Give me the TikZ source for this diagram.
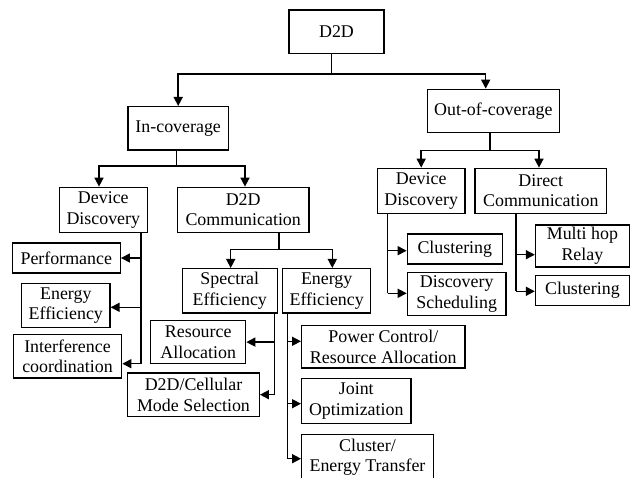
\documentclass[tikz,border=0pt]{standalone}
\usepackage{fontspec}
\setmainfont{Liberation Serif}
\usetikzlibrary{arrows.meta}
\begin{document}
\begin{tikzpicture}[x=1pt,y=-1pt,
  box/.style={draw,line width=1.3pt,inner sep=0pt,align=center,
    font=\fontsize{17.9}{20.7}\selectfont},
  bx/.style 2 args={box,minimum width=#1 pt,minimum height=#2 pt},
  ln/.style={line width=1.5pt},
  arr/.style={line width=1.5pt,-{Triangle[length=9pt,width=9pt]}}]
\useasboundingbox (0,0) rectangle (630,478);
\fill[white] (0,0) rectangle (630,478);

% nodes
\node[bx={95}{43.3}] (d2d) at (336.5,31.7) {D2D};
\node[bx={100.3}{43.3}] (inc) at (178.2,128.3) {In-coverage};
\node[bx={132}{43}] (outc) at (493.3,110.8) {Out-of-coverage};
\node[bx={88}{45}] (dd1) at (103.3,209.8) {Device\\Discovery};
\node[bx={131.7}{45}] (comm) at (243.2,209.8) {D2D\\Communication};
\node[bx={87.7}{45}] (dd2) at (421.2,190.8) {Device\\Discovery};
\node[bx={131.7}{45}] (dcomm) at (540.8,190.8) {Direct\\Communication};
\node[bx={108}{30}] (perf) at (66.3,258) {Performance};
\node[bx={88.3}{43.6}] (ee1) at (65.8,305.5) {Energy\\Efficiency};
\node[bx={108.4}{43.3}] (intf) at (67.5,356.3) {Interference\\coordination};
\node[bx={95}{44.3}] (spec) at (229.8,290.8) {Spectral\\Efficiency};
\node[bx={88}{44.3}] (ee2) at (326.7,290.8) {Energy\\Efficiency};
\node[bx={95}{43.2}] (res) at (198.2,342.1) {Resource\\Allocation};
\node[bx={131.6}{43.3}] (mode) at (193.5,394.7) {D2D/Cellular\\Mode Selection};
\node[bx={163.3}{42.7}] (power) at (383.3,346.7) {Power Control/\\Resource Allocation};
\node[bx={109.3}{45}] (joint) at (356.3,401.2) {Joint\\Optimization};
\node[bx={131.6}{45}] (clen) at (367.5,457.2) {Cluster/\\Energy Transfer};
\node[bx={95}{30}] (clus1) at (454.8,249) {Clustering};
\node[bx={98.7}{43}] (sched) at (456.7,293.8) {Discovery\\Scheduling};
\node[bx={93.8}{42}] (relay) at (582.4,246) {Multi hop\\Relay};
\node[bx={93.8}{30}] (clus2) at (582.4,290.7) {Clustering};

% D2D -> coverage
\coordinate (j1) at (331.7,74);
\draw[ln] (j1 |- d2d.south) -- (j1);
\draw[arr] (j1) -| (inc.north);
\draw[arr] (j1) -| ([xshift=-7.6pt]outc.north);

% In-coverage -> children
\coordinate (j2) at (176.7,166);
\draw[ln] (j2 |- inc.south) -- (j2);
\draw[arr] (j2) -| ([xshift=-4.3pt]dd1.north);
\draw[arr] (j2) -| ([xshift=1.8pt]comm.north);

% Out-of-coverage -> children
\coordinate (j3) at (490,150.7);
\draw[ln] (j3 |- outc.south) -- (j3);
\draw[arr] (j3) -| (dd2.north);
\draw[arr] (j3) -| ([xshift=-1.8pt]dcomm.north);

% Device Discovery (in-coverage)
\coordinate (s1) at (141,363.7);
\draw[ln] (s1 |- dd1.south) -- (s1);
\draw[arr] (s1 |- perf.east) -- (perf.east);
\draw[arr] ([yshift=-1.8pt]s1 |- ee1.east) -- ([yshift=-1.8pt]ee1.east);
\draw[arr] (s1) -- (s1 -| intf.east);

% D2D Communication -> Spectral / Energy
\coordinate (j4) at (279,249.7);
\draw[ln] (j4 |- comm.south) -- (j4);
\draw[arr] (j4) -| ([xshift=0.9pt]spec.north);
\draw[arr] (j4) -| ([xshift=5.6pt]ee2.north);

% Spectral Efficiency
\coordinate (s2) at (274.3,394.7);
\draw[ln] (s2 |- spec.south) -- (s2);
\draw[arr] (s2 |- res.east) -- (res.east);
\draw[arr] (s2) -- (mode.east);

% Energy Efficiency
\coordinate (s3) at (287.7,458.7);
\draw[ln] (s3 |- ee2.south) -- (s3);
\draw[arr] ([yshift=5.4pt]s3 |- power.west) -- ([yshift=5.4pt]power.west);
\draw[arr] ([yshift=-2.5pt]s3 |- joint.west) -- ([yshift=-2.5pt]joint.west);
\draw[arr] (s3) -- (s3 -| clen.west);

% Device Discovery (out-of-coverage)
\coordinate (s4) at (387.7,293.3);
\draw[ln] (s4 |- dd2.south) -- (s4);
\draw[arr] ([yshift=-1.7pt]s4 |- clus1.west) -- ([yshift=-1.7pt]clus1.west);
\draw[arr] (s4) -- (s4 -| sched.west);

% Direct Communication
\coordinate (s5) at (516,291.3);
\draw[ln] (s5 |- dcomm.south) -- (s5);
\draw[arr] ([yshift=-8.7pt]s5 |- relay.west) -- ([yshift=-8.7pt]relay.west);
\draw[arr] (s5) -- (s5 -| clus2.west);
\end{tikzpicture}
\end{document}
